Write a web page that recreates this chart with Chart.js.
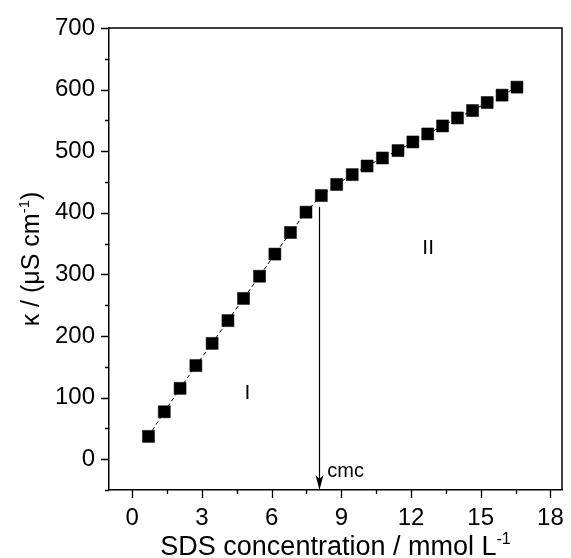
<!DOCTYPE html>
<html>
<head>
<meta charset="utf-8">
<script src="https://cdn.jsdelivr.net/npm/chart.js@4"></script>
<style>
html, body { margin: 0; padding: 0; background: #fff; }
</style>
</head>
<body>
<canvas id="graficoCondutividade" width="571" height="558"></canvas>
<script>
// --- DADOS ---
const concentracao = [0.70, 1.38, 2.06, 2.74, 3.44, 4.12, 4.79, 5.48, 6.14, 6.81, 7.48,
    8.14, 8.80, 9.47, 10.11, 10.77, 11.44, 12.08, 12.72, 13.36, 14.00, 14.65, 15.28, 15.92, 16.56];
const condutividade = [37, 77, 115, 152, 188, 225, 261, 297, 333, 368, 401,
    428, 446, 462, 476, 489, 501, 515, 528, 541, 554, 566, 579, 591, 604];

// marcas dos eixos (principais com rótulo, secundárias sem)
const ticksX = [0, 3, 6, 9, 12, 15, 18];
const ticksXMenores = [1.5, 4.5, 7.5, 10.5, 13.5, 16.5];
const ticksY = [0, 100, 200, 300, 400, 500, 600, 700];
const ticksYMenores = [-50, 50, 150, 250, 350, 450, 550, 650];

// marcação da cmc e das regiões
const cmc = 8.05;
const topoSeta = 410;
const rotuloCmc = { texto: "cmc", x: 8.4, y: -20 };
const rotulosRegiao = [
    { texto: "I", x: 4.96, y: 107 },
    { texto: "II", x: 12.74, y: 343 }
];

const tituloX = ["SDS concentration / mmol L", "-1"];
const tituloY = ["\u03ba / (\u03bcS cm", "-1", ")"];

const FONTE = 'Arial, "Liberation Sans", sans-serif';

// desenha texto com expoente (partes alternadas: normal, sobrescrito, normal...)
function desenharComExpoente(ctx, partes, x, y, tamanho) {
    const pequeno = Math.round(tamanho * 0.6);
    let largura = 0;
    partes.forEach((p, i) => {
        ctx.font = `${i % 2 ? pequeno : tamanho}px ${FONTE}`;
        largura += ctx.measureText(p).width;
    });
    let cx = x - largura / 2;
    ctx.textAlign = "left";
    ctx.textBaseline = "alphabetic";
    partes.forEach((p, i) => {
        const sobe = i % 2 ? tamanho * 0.42 : 0;
        ctx.font = `${i % 2 ? pequeno : tamanho}px ${FONTE}`;
        ctx.fillText(p, cx, y - sobe);
        cx += ctx.measureText(p).width;
    });
}

const pluginAnotacoes = {
    id: "anotacoes",
    afterDatasetsDraw(chart) {
        const { ctx, chartArea: a, scales: { x, y } } = chart;
        ctx.save();
        ctx.strokeStyle = "#000";
        ctx.fillStyle = "#000";

        // moldura (topo e direita)
        ctx.lineWidth = 1.5;
        ctx.beginPath();
        ctx.moveTo(a.left, a.top);
        ctx.lineTo(a.right, a.top);
        ctx.lineTo(a.right, a.bottom);
        ctx.stroke();

        // marcas dos eixos: principais 8px, secundárias 4px
        ctx.lineWidth = 1.3;
        ctx.beginPath();
        ticksX.concat(ticksXMenores).forEach(v => {
            const px = Math.round(x.getPixelForValue(v)) + 0.5;
            ctx.moveTo(px, a.bottom);
            ctx.lineTo(px, a.bottom + (ticksX.includes(v) ? 8 : 4));
        });
        ticksY.concat(ticksYMenores).forEach(v => {
            const py = Math.round(y.getPixelForValue(v)) + 0.5;
            ctx.moveTo(a.left, py);
            ctx.lineTo(a.left - (ticksY.includes(v) ? 8 : 4), py);
        });
        ctx.stroke();

        // seta da cmc
        const xs = Math.round(x.getPixelForValue(cmc)) + 0.5;
        const y0 = y.getPixelForValue(topoSeta);
        const y1 = a.bottom;
        ctx.lineWidth = 1.2;
        ctx.beginPath();
        ctx.moveTo(xs, y0);
        ctx.lineTo(xs, y1 - 8);
        ctx.stroke();
        ctx.beginPath();
        ctx.moveTo(xs, y1);
        ctx.lineTo(xs - 4, y1 - 15);
        ctx.lineTo(xs, y1 - 11);
        ctx.lineTo(xs + 4, y1 - 15);
        ctx.closePath();
        ctx.fill();

        // textos
        ctx.textBaseline = "middle";
        ctx.textAlign = "left";
        ctx.font = `20px ${FONTE}`;
        ctx.fillText(rotuloCmc.texto, x.getPixelForValue(rotuloCmc.x), y.getPixelForValue(rotuloCmc.y));
        ctx.textAlign = "center";
        ctx.font = `21px ${FONTE}`;
        rotulosRegiao.forEach(r => {
            ctx.fillText(r.texto, x.getPixelForValue(r.x), y.getPixelForValue(r.y));
        });
        ctx.restore();
    },
    afterDraw(chart) {
        const { ctx, chartArea: a } = chart;
        ctx.save();
        ctx.fillStyle = "#000";
        desenharComExpoente(ctx, tituloX, (a.left + a.right) / 2, 555, 27);
        ctx.translate(39, (a.top + a.bottom) / 2);
        ctx.rotate(-Math.PI / 2);
        desenharComExpoente(ctx, tituloY, 0, 0, 25);
        ctx.restore();
    }
};

const ctxGrafico = document.getElementById("graficoCondutividade").getContext("2d");

new Chart(ctxGrafico, {
    type: "line",
    data: {
        datasets: [{
            data: concentracao.map((c, i) => ({ x: c, y: condutividade[i] })),
            borderColor: "#000",
            backgroundColor: "#000",
            borderWidth: 1,
            borderDash: [4, 3],
            pointStyle: "rect",
            pointRadius: 8.5,
            pointBorderWidth: 0.5,
            pointHoverRadius: 8.5,
            tension: 0
        }]
    },
    options: {
        responsive: false,
        devicePixelRatio: 1,
        animation: false,
        layout: { padding: { top: 28, right: 0, left: 0, bottom: 0 } },
        plugins: { legend: { display: false }, tooltip: { enabled: false } },
        scales: {
            x: {
                type: "linear",
                min: -1,
                max: 18.5,
                afterBuildTicks: s => { s.ticks = ticksX.map(v => ({ value: v })); },
                afterFit: s => { s.height = 68; s.paddingLeft = 0; s.paddingRight = 0; },
                ticks: {
                    autoSkip: false,
                    maxRotation: 0,
                    color: "#000",
                    padding: 14,
                    font: { family: FONTE, size: 24 }
                },
                grid: { drawOnChartArea: false, drawTicks: false },
                border: { color: "#000", width: 1.5 }
            },
            y: {
                min: -50,
                max: 700,
                afterBuildTicks: s => { s.ticks = ticksY.map(v => ({ value: v })); },
                afterFit: s => { s.width = 109; s.paddingTop = 0; s.paddingBottom = 0; },
                ticks: {
                    autoSkip: false,
                    color: "#000",
                    padding: 14,
                    font: { family: FONTE, size: 24 }
                },
                grid: { drawOnChartArea: false, drawTicks: false },
                border: { color: "#000", width: 1.5 }
            }
        }
    },
    plugins: [pluginAnotacoes]
});
</script>
</body>
</html>
